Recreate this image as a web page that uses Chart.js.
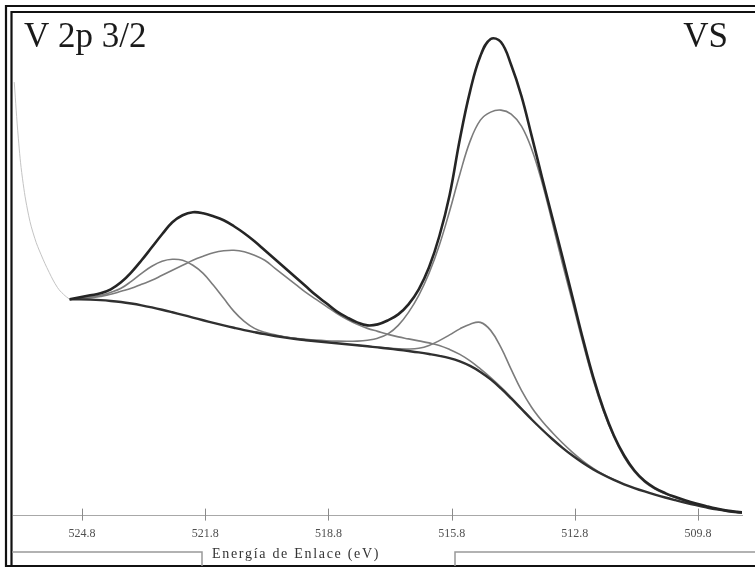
<!DOCTYPE html>
<html>
<head>
<meta charset="utf-8">
<title>V 2p 3/2 - VS</title>
<script src="https://cdn.jsdelivr.net/npm/chart.js@4/dist/chart.umd.min.js"></script>
<style>
  html, body { margin: 0; padding: 0; background: #fff; }
  #wrap { width: 755px; height: 568px; }
</style>
</head>
<body>
<div id="wrap"><canvas id="xps"></canvas></div>
<script>
// binding energy grid (eV) shared by the fitted curves
const energy = [
  525.1, 524.85, 524.6, 524.35, 524.1, 523.85, 523.6, 523.35, 523.1, 522.85,
  522.6, 522.35, 522.1, 521.85, 521.6, 521.35, 521.1, 520.85, 520.6, 520.35,
  520.1, 519.85, 519.6, 519.35, 519.1, 518.85, 518.6, 518.35, 518.1, 517.85,
  517.6, 517.35, 517.1, 516.85, 516.6, 516.35, 516.1, 515.85, 515.6, 515.35,
  515.1, 514.85, 514.6, 514.35, 514.1, 513.85, 513.6, 513.35, 513.1, 512.85,
  512.6, 512.35, 512.1, 511.85, 511.6, 511.35, 511.1, 510.85, 510.6, 510.35,
  510.1, 509.85, 509.6, 509.35, 509.1, 508.85, 508.6
];

// sum of the fit
const envelope = [
  2160, 2180, 2200, 2220, 2260, 2330, 2430, 2550, 2680, 2810,
  2930, 3000, 3030, 3020, 2990, 2950, 2890, 2820, 2740, 2650,
  2560, 2470, 2380, 2290, 2200, 2120, 2040, 1980, 1930, 1900,
  1910, 1950, 2010, 2110, 2260, 2480, 2790, 3200, 3760, 4240,
  4590, 4760, 4730, 4500, 4190, 3790, 3380, 2980, 2580, 2170,
  1760, 1380, 1060, 800, 600, 450, 345, 275, 225, 185,
  150, 120, 94, 70, 50, 37, 28
];

// Shirley background
const background = [
  2160, 2160, 2157, 2152, 2144, 2133, 2118, 2100, 2079, 2056,
  2031, 2005, 1978, 1951, 1925, 1900, 1876, 1853, 1832, 1812,
  1794, 1778, 1764, 1752, 1741, 1731, 1721, 1711, 1701, 1691,
  1680, 1669, 1657, 1644, 1630, 1614, 1596, 1573, 1540, 1495,
  1435, 1360, 1270, 1170, 1065, 960, 860, 765, 677, 597,
  525, 461, 405, 356, 313, 275, 241, 210, 181, 154,
  128, 104, 82, 62, 46, 34, 26
];

// fitted components (each starts at the given grid index)
const peakA = [
  2160, 2170, 2185, 2200, 2230, 2270, 2340, 2420, 2490, 2540,
  2560, 2550, 2500, 2420, 2300, 2170, 2040, 1940, 1870, 1830,
  1805, 1785, 1768, 1754, 1742
];
const peakAStart = 0;

const peakB = [
  2160, 2165, 2175, 2190, 2210, 2240, 2270, 2310, 2350, 2400,
  2450, 2500, 2550, 2590, 2625, 2645, 2650, 2635, 2600, 2550,
  2470, 2390, 2310, 2230, 2160, 2090, 2020, 1960, 1910, 1870,
  1840, 1810, 1785, 1765, 1745, 1725, 1700, 1660, 1610, 1545,
  1465, 1378, 1283, 1180, 1072, 965
];
const peakBStart = 0;

const peakC = [
  1835, 1816, 1799, 1784, 1771, 1761, 1753, 1747, 1743, 1741,
  1743, 1752, 1772, 1815, 1900, 2030, 2200, 2420, 2700, 3040,
  3410, 3740, 3950, 4030, 4050, 4010, 3890, 3660, 3330, 2930,
  2515, 2120, 1720, 1350, 1040, 785, 585, 437, 335, 266,
  217, 178, 145, 117, 91, 68, 49, 36, 27
];
const peakCStart = 18;

const peakD = [
  1701, 1692, 1682, 1673, 1666, 1664, 1672, 1700, 1748, 1805,
  1865, 1912, 1930, 1850, 1680, 1460, 1250, 1080, 945, 830,
  725, 630, 545, 472, 410, 358, 313
];
const peakDStart = 28;

// measured spectrum outside the fit window
const rawEnergy = [526.45, 526.35, 526.25, 526.1, 525.95, 525.8, 525.6, 525.4, 525.25, 525.1];
const rawCounts = [4330, 3770, 3370, 3000, 2770, 2610, 2430, 2280, 2210, 2160];

const tickValues = [524.8, 521.8, 518.8, 515.8, 512.8, 509.8];

const toPoints = (vals, from = 0, xs = energy) =>
  vals.map((y, i) => ({ x: xs[from + i], y }));

const line = (data, color, width) => ({
  data,
  borderColor: color,
  borderWidth: width,
  pointRadius: 0,
  fill: false,
  tension: 0.4,
});

const serif = '"Liberation Serif", "DejaVu Serif", serif';

const framePlugin = {
  id: "frame",
  beforeDraw(chart) {
    const { ctx, width, height } = chart;
    ctx.save();
    ctx.fillStyle = "#fff";
    ctx.fillRect(0, 0, width, height);
    ctx.restore();
  },
  afterDraw(chart) {
    const { ctx, chartArea, scales } = chart;
    const x = scales.x;
    ctx.save();

    // tick marks across the axis line
    ctx.strokeStyle = "#8a8a8a";
    ctx.lineWidth = 1;
    x.ticks.forEach((t) => {
      const px = Math.round(x.getPixelForValue(t.value)) + 0.5;
      ctx.beginPath();
      ctx.moveTo(px, chartArea.bottom - 7);
      ctx.lineTo(px, chartArea.bottom + 5);
      ctx.stroke();
    });

    // double frame
    ctx.strokeStyle = "#111";
    ctx.lineWidth = 2.2;
    ctx.beginPath();
    ctx.moveTo(755, 6);
    ctx.lineTo(6, 6);
    ctx.lineTo(6, 566);
    ctx.lineTo(755, 566);
    ctx.moveTo(755, 12);
    ctx.lineTo(11.5, 12);
    ctx.lineTo(11.5, 566);
    ctx.stroke();

    // inner bottom edge with the notch for the axis title
    ctx.strokeStyle = "#999";
    ctx.lineWidth = 1.5;
    ctx.beginPath();
    ctx.moveTo(12, 552);
    ctx.lineTo(202, 552);
    ctx.lineTo(202, 566);
    ctx.moveTo(455, 566);
    ctx.lineTo(455, 552);
    ctx.lineTo(755, 552);
    ctx.stroke();

    // corner labels
    ctx.fillStyle = "#1a1a1a";
    ctx.font = "35px " + serif;
    ctx.textBaseline = "alphabetic";
    ctx.textAlign = "left";
    ctx.fillText("V 2p 3/2", 24, 47);
    ctx.textAlign = "right";
    ctx.fillText("VS", 728, 47);

    // axis title
    ctx.fillStyle = "#333";
    ctx.font = "14px " + serif;
    ctx.textAlign = "left";
    ctx.letterSpacing = "1.7px";
    ctx.fillText("Energía de Enlace (eV)", 212, 558);
    ctx.restore();
  },
};

new Chart(document.getElementById("xps"), {
  type: "line",
  data: {
    datasets: [
      line(toPoints(envelope), "#252525", 2.6),
      line(toPoints(background), "#303030", 2.4),
      line(toPoints(peakA, peakAStart), "#7c7c7c", 1.6),
      line(toPoints(peakB, peakBStart), "#7c7c7c", 1.6),
      line(toPoints(peakC, peakCStart), "#7c7c7c", 1.6),
      line(toPoints(peakD, peakDStart), "#7c7c7c", 1.6),
      line(toPoints(rawCounts, 0, rawEnergy), "#c4c4c4", 1),
    ],
  },
  options: {
    responsive: true,
    maintainAspectRatio: false,
    animation: false,
    layout: { padding: { left: 13, right: 13, top: 15, bottom: 16 } },
    plugins: { legend: { display: false }, tooltip: { enabled: false } },
    scales: {
      x: {
        type: "linear",
        reverse: true,
        min: 508.73,
        max: 526.48,
        afterBuildTicks: (scale) => {
          scale.ticks = tickValues.map((v) => ({ value: v }));
        },
        grid: { display: false, drawTicks: false },
        border: { display: true, color: "#a8a8a8", width: 1, dash: [1, 2] },
        ticks: {
          autoSkip: false,
          maxRotation: 0,
          padding: 11,
          color: "#505050",
          font: { family: serif, size: 12 },
          callback: (v) => Number(v).toFixed(1),
        },
      },
      y: { display: false, min: 0, max: 5000 },
    },
  },
  plugins: [framePlugin],
});
</script>
</body>
</html>
